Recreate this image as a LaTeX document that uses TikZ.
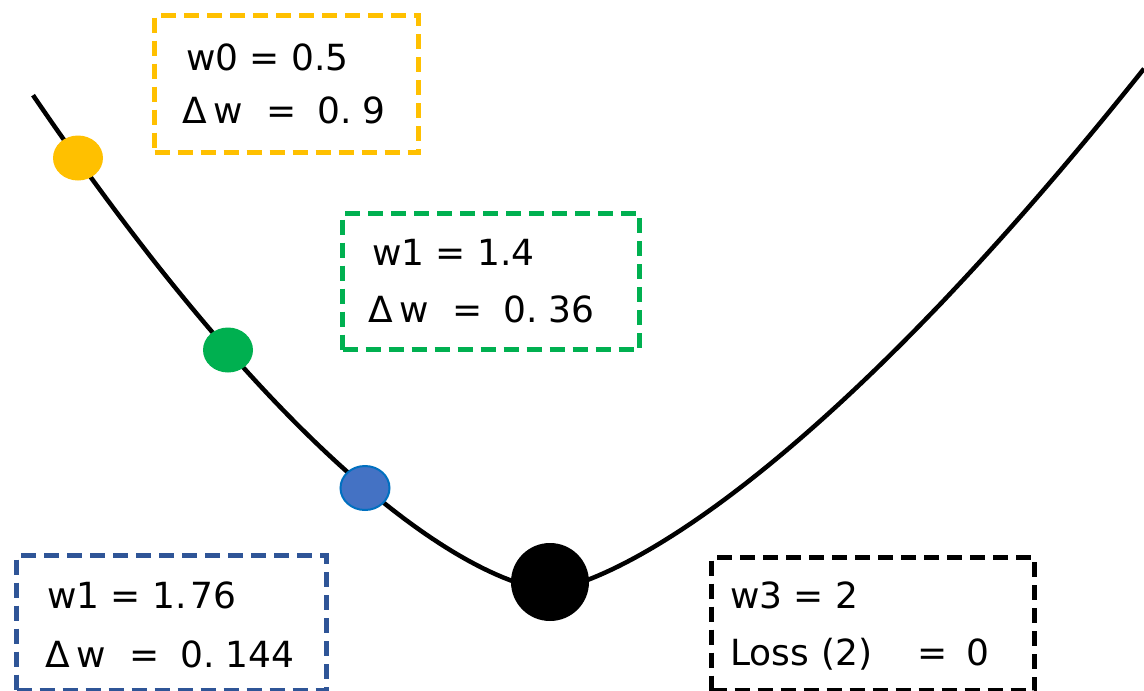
\documentclass[tikz,border=0pt]{standalone}
\usepackage{fontspec}
\setmainfont{DejaVu Sans}
\usetikzlibrary{shapes.geometric}
\definecolor{cgold}{HTML}{FFC000}
\definecolor{cgreen}{HTML}{00B050}
\definecolor{cnavy}{HTML}{2F5597}
\definecolor{cblue}{HTML}{4472C4}
\definecolor{cblueedge}{HTML}{0070C0}
% spacing for the "Delta w = value" lines
\newcommand{\dwline}[2]{Δ\hspace{7pt}w\hspace{23pt}=\hspace{21pt}#1.\hspace{11pt}#2}
\begin{document}
\begin{tikzpicture}[x=1pt,y=-1pt,
  dbox/.style={draw=#1, line width=5pt, dash pattern=on 15pt off 8pt,
    rectangle, anchor=north west, inner sep=0pt},
  lbl/.style={anchor=base west, inner sep=0pt, font=\fontsize{36}{40}\selectfont},
  dot/.style={ellipse, fill=#1, minimum width=50pt, minimum height=45pt, inner sep=0pt},
  curve/.style={line width=4.5pt, line join=round}]
\useasboundingbox[fill=white] (0,0) rectangle (1144,691);

% loss curve: two power-law arms meeting at the minimum (550,590)
\draw[curve]
  plot[domain=33:549, samples=80] (\x, {590 - 40.07*((550-\x)/100)^1.53})
  -- (550,590)
  -- plot[domain=551:1144, samples=80] (\x, {590 - 40.8*((\x-550)/100)^1.43});

% iterates along the curve
\node[dot=cgold] (p0) at (78,158) {};
\node[dot=cgreen] (p1) at (228,350) {};
\node[dot=cblue, draw=cblueedge, line width=2pt, minimum width=49pt, minimum height=44pt] (p2) at (365,488) {};
\node[circle, fill=black, minimum size=78pt, inner sep=0pt] (p3) at (550,582) {};

% dashed annotation boxes
\node[dbox=cgold, minimum width=264pt, minimum height=137pt] (b0) at (152,13) {};
\node[dbox=cgreen, minimum width=297pt, minimum height=136pt] (b1) at (340,211) {};
\node[dbox=cnavy, minimum width=310pt, minimum height=135pt] (b2) at (14,553) {};
\node[dbox=black, minimum width=323pt, minimum height=133pt] (b3) at (709,555) {};

% labels
\node[lbl] (t0a) at (186,70) {w0 = 0.5};
\node[lbl] (t0b) at (182,123) {\dwline{0}{9}};
\node[lbl] (t1a) at (372,265) {w1 = 1.4};
\node[lbl] (t1b) at (368,322) {\dwline{0}{36}};
\node[lbl] (t2a) at (47,608) {w1 = 1.\hspace{4pt}76};
\node[lbl] (t2b) at (45,667) {\dwline{0}{144}};
\node[lbl] (t3a) at (730,608) {w3 = 2};
\node[lbl] (t3b) at (730,665) {Loss\hspace{12pt}(2)\hspace{45pt}=\hspace{19pt}0};
\end{tikzpicture}
\end{document}
